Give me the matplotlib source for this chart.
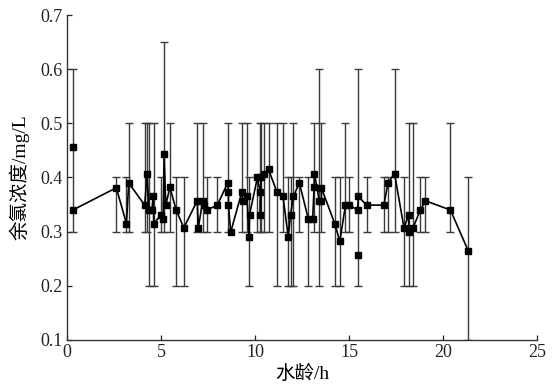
import matplotlib
matplotlib.use("Agg")
import matplotlib.pyplot as plt
import numpy as np

plt.rcParams['font.family'] = ['Liberation Serif', 'Noto Sans CJK SC', 'DejaVu Sans']

# line series (water age h, residual chlorine mg/L)
line_x = [0.31, 2.62, 3.16, 3.28, 4.13, 4.26, 4.36, 4.51, 4.58, 4.61, 4.99, 5.11, 5.16, 5.25,
          5.47, 5.80, 6.21, 6.92, 6.98, 7.21, 7.28, 7.44, 7.99, 8.54, 8.58, 8.58, 8.70, 9.29,
          9.36, 9.56, 9.68, 9.70, 10.12, 10.27, 10.28, 10.32, 10.46, 10.71, 11.16, 11.48, 11.76,
          11.88, 12.03, 12.35, 12.83, 13.06, 13.13, 13.15, 13.41, 13.52, 13.52, 14.23, 14.50,
          14.80, 15.01, 15.44, 15.49, 15.92, 16.84, 17.06, 17.41, 17.91, 18.16, 18.16, 18.39,
          18.78, 19.05, 20.38, 21.32]
line_y = [0.340, 0.381, 0.315, 0.390, 0.349, 0.407, 0.340, 0.340, 0.365, 0.315, 0.331, 0.323,
          0.444, 0.349, 0.382, 0.340, 0.307, 0.357, 0.307, 0.357, 0.349, 0.340, 0.349, 0.390,
          0.373, 0.349, 0.299, 0.373, 0.357, 0.365, 0.290, 0.331, 0.400, 0.373, 0.331, 0.400,
          0.407, 0.415, 0.373, 0.365, 0.290, 0.331, 0.365, 0.390, 0.323, 0.323, 0.382, 0.407,
          0.357, 0.357, 0.381, 0.315, 0.282, 0.349, 0.349, 0.340, 0.365, 0.349, 0.349, 0.390,
          0.407, 0.307, 0.331, 0.300, 0.307, 0.340, 0.357, 0.340, 0.265]

# isolated measurements
extra_x = [0.31, 15.44]
extra_y = [0.457, 0.256]

# error bars (position, low, high)
bar_x = [0.31, 2.62, 3.16, 3.28, 4.13, 4.26, 4.36, 4.61, 4.99, 5.16, 5.47, 5.80, 6.21, 6.92,
         7.21, 7.44, 7.99, 8.58, 9.29, 9.56, 9.68, 10.12, 10.27, 10.32, 10.46, 10.71, 11.16,
         11.48, 11.76, 11.88, 12.03, 12.35, 12.83, 13.13, 13.41, 13.52, 14.23, 14.50, 14.80,
         15.01, 15.44, 15.92, 16.84, 17.06, 17.41, 17.91, 18.16, 18.39, 18.78, 19.05, 20.38,
         21.32]
bar_lo = [0.3, 0.3, 0.3, 0.3, 0.3, 0.3, 0.2, 0.2, 0.3, 0.3, 0.3, 0.2, 0.2, 0.3,
          0.3, 0.3, 0.3, 0.3, 0.3, 0.3, 0.2, 0.3, 0.3, 0.3, 0.3, 0.3, 0.2,
          0.3, 0.2, 0.2, 0.2, 0.3, 0.2, 0.3, 0.2, 0.3, 0.2, 0.2, 0.3,
          0.3, 0.2, 0.3, 0.3, 0.3, 0.3, 0.2, 0.2, 0.2, 0.3, 0.3, 0.3,
          0.1]
bar_hi = [0.6, 0.4, 0.4, 0.5, 0.5, 0.5, 0.5, 0.5, 0.4, 0.65, 0.5, 0.4, 0.4, 0.5,
          0.5, 0.4, 0.4, 0.5, 0.5, 0.5, 0.4, 0.4, 0.5, 0.5, 0.5, 0.5, 0.5,
          0.5, 0.4, 0.4, 0.5, 0.4, 0.4, 0.5, 0.6, 0.5, 0.4, 0.4, 0.5,
          0.4, 0.6, 0.4, 0.4, 0.4, 0.6, 0.4, 0.5, 0.5, 0.4, 0.4, 0.5,
          0.4]

x_ticks = [0, 5, 10, 15, 20, 25]
y_ticks = [0.1, 0.2, 0.3, 0.4, 0.5, 0.6, 0.7]

fig = plt.figure(figsize=(5.56, 3.92), dpi=100)
ax = fig.add_axes([0.1205, 0.1327, 0.846, 0.829])

bx = np.array(bar_x)
blo = np.array(bar_lo)
bhi = np.array(bar_hi)
mid = (blo + bhi) / 2
ax.errorbar(bx, mid, yerr=[mid - blo, bhi - mid], fmt='none', ecolor='#3a3a3a',
            elinewidth=1.0, capsize=2.6, capthick=1.0, zorder=2)

ax.plot(line_x, line_y, color='black', lw=1.2, marker='s', markersize=3.8,
        markerfacecolor='black', markeredgecolor='black', zorder=3)
ax.plot(extra_x, extra_y, ls='none', marker='s', markersize=3.8, color='black', zorder=3)

ax.set_xlim(0, 25)
ax.set_ylim(0.1, 0.7)
ax.set_xticks(x_ticks)
ax.set_yticks(y_ticks)
ax.set_xticklabels([str(v) for v in x_ticks])
ax.set_yticklabels([f"{v:.1f}" for v in y_ticks])
ax.tick_params(direction='in', length=3.5, width=0.9, labelsize=13, colors='#222222', pad=3)
for s in ['top', 'right']:
    ax.spines[s].set_visible(False)
for s in ['left', 'bottom']:
    ax.spines[s].set_linewidth(1.0)
    ax.spines[s].set_color('#333333')

ax.set_xlabel('水龄/h', fontsize=14, labelpad=3, fontweight='medium')
ax.set_ylabel('余氯浓度/mg/L', fontsize=14, labelpad=8, fontweight='medium')

fig.savefig('out.png', dpi=100)
